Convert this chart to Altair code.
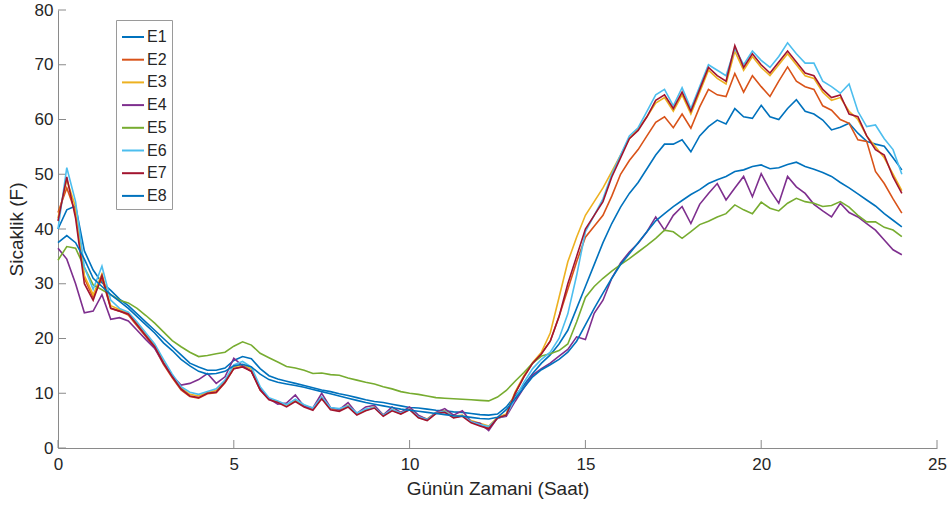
import altair as alt
import pandas as pd

hours = [i * 0.25 for i in range(97)]
series_names = ["E1", "E2", "E3", "E4", "E5", "E6", "E7", "E8"]
series_colors = ["#0072BD", "#D95319", "#EDB120", "#7E2F8E", "#77AC30", "#4DBEEE", "#A2142F", "#0072BD"]
x_ticks = [0, 5, 10, 15, 20, 25]
y_ticks = [0, 10, 20, 30, 40, 50, 60, 70, 80]

E1 = [40.0, 43.5, 44.2, 36.0,
      32.5, 30.2, 28.8, 27.2,
      26.0, 24.5, 23.0, 21.5,
      20.0, 18.5, 17.0, 15.5,
      14.8, 14.2, 14.2, 14.6,
      16.0, 16.7, 16.3, 14.5,
      13.2, 12.6, 12.2, 11.8,
      11.4, 11.0, 10.6, 10.3,
      9.9, 9.6, 9.2, 8.8,
      8.5, 8.3, 8.0, 7.7,
      7.4, 7.3, 7.1, 6.9,
      6.8, 6.6, 6.5, 6.3,
      6.1, 6.0, 6.2, 7.5,
      9.5, 11.5, 13.6, 15.5,
      17.0, 19.0, 21.5, 25.5,
      29.5, 33.5, 37.5, 41.0,
      44.0, 46.5, 48.5, 51.0,
      53.5, 55.5, 55.5, 56.3,
      54.1, 57.0, 58.7, 59.9,
      59.2, 62.0, 60.5, 60.2,
      62.6, 60.5, 60.0, 62.0,
      63.6, 61.5, 61.0, 59.9,
      58.1, 58.6, 59.3, 57.5,
      56.0, 55.5, 55.1, 53.0,
      50.8]

E2 = [43.0, 47.5, 43.0, 31.0,
      27.5, 31.0, 25.5, 25.0,
      24.3, 22.3, 20.3, 18.3,
      15.3, 12.8, 10.6, 9.4,
      9.1, 9.9, 10.1, 11.9,
      14.5, 14.9, 14.0, 10.6,
      9.0, 8.4, 7.7, 8.6,
      7.7, 7.1, 9.1, 7.2,
      6.9, 7.6, 6.2, 6.9,
      7.4, 6.0, 6.9, 6.3,
      7.1, 5.6, 5.1, 6.4,
      6.6, 5.6, 5.9, 4.8,
      4.2, 3.7, 5.5, 6.1,
      10.0, 13.0, 15.5, 17.2,
      19.5, 24.0, 29.0, 34.0,
      38.5, 40.5, 42.5, 46.0,
      50.0, 52.5, 54.5, 57.0,
      59.5, 60.5, 58.5, 61.0,
      58.4, 62.3, 65.5, 64.5,
      64.2, 68.4, 65.0, 68.0,
      66.0, 64.2, 67.0, 69.6,
      67.0, 66.0, 65.5, 62.5,
      61.7, 60.0, 59.3, 56.3,
      56.0, 50.5, 48.3, 45.5,
      42.9]

E3 = [42.0, 49.0, 44.0, 31.5,
      28.0, 31.8, 26.0, 25.3,
      24.7, 22.8, 20.8, 18.8,
      15.8, 13.2, 11.0, 9.8,
      9.5, 10.2, 10.5, 12.2,
      14.8, 15.2, 14.4, 10.9,
      9.0, 8.5, 7.8, 8.7,
      7.8, 7.2, 9.2, 7.3,
      7.0, 7.8, 6.3, 7.0,
      7.5, 6.1, 7.0, 6.5,
      7.2, 5.8, 5.3, 6.5,
      6.8, 5.8, 6.0, 5.0,
      4.5, 4.0, 5.6, 6.2,
      10.2, 13.2, 15.6, 17.5,
      21.0, 27.5, 34.0, 38.5,
      42.5, 45.0, 47.5, 50.5,
      53.5, 56.5, 58.3, 60.5,
      63.0, 64.0, 61.5, 64.5,
      61.0, 65.0, 69.0, 67.5,
      66.5, 72.5, 69.0, 71.5,
      69.5, 68.0, 70.0, 72.0,
      70.0, 68.0, 67.5, 65.0,
      63.5, 64.0, 61.5, 60.0,
      57.0, 55.0, 53.0, 50.0,
      47.0]

E4 = [36.5, 34.5, 30.0, 24.7,
      25.0, 28.0, 23.5, 23.8,
      23.2, 21.5, 19.8, 18.2,
      15.5, 13.2, 11.5, 11.8,
      12.5, 13.6, 11.8, 13.0,
      16.4, 15.0, 14.0, 10.8,
      9.0, 8.0, 8.2, 9.7,
      7.6, 7.3, 10.0, 7.4,
      7.0, 8.3, 6.3, 7.5,
      7.8, 6.0, 7.5, 6.5,
      7.5, 6.0, 5.2, 6.5,
      7.2, 6.0, 6.8, 4.8,
      4.5, 3.2, 5.5, 5.8,
      8.5, 11.0, 13.3, 14.5,
      15.5, 16.8, 18.0, 20.3,
      19.8, 24.6, 27.0, 31.0,
      33.8, 35.8, 37.4, 39.5,
      42.2, 39.8, 42.5, 44.1,
      41.0, 44.5, 46.5, 48.3,
      45.3, 47.5, 49.6, 45.9,
      50.1, 47.1, 44.7, 49.6,
      47.7, 46.5, 44.5, 43.3,
      42.2, 44.7, 43.0, 42.2,
      41.0, 39.8, 38.0, 36.2,
      35.3]

E5 = [34.3, 36.8, 36.5, 33.0,
      29.8, 28.9, 28.0, 27.0,
      26.5, 25.5, 24.2, 22.8,
      21.2, 19.6, 18.5, 17.5,
      16.7, 16.9, 17.2, 17.5,
      18.6, 19.4, 18.8, 17.3,
      16.5, 15.7, 14.9, 14.6,
      14.2, 13.6, 13.7, 13.4,
      13.3, 12.8, 12.4, 12.0,
      11.7, 11.2, 10.8, 10.3,
      10.0, 9.8, 9.5, 9.2,
      9.1, 9.0, 8.9, 8.8,
      8.7, 8.6, 9.3, 10.5,
      12.2, 13.8, 15.5, 16.8,
      17.2, 17.8, 19.0, 23.0,
      27.5, 29.5, 31.0, 32.3,
      33.5, 34.6, 35.8, 37.0,
      38.3, 39.8, 39.5, 38.3,
      39.5, 40.8, 41.4, 42.2,
      42.8, 44.4, 43.5, 42.8,
      44.9, 43.8, 43.3, 44.7,
      45.6, 45.0, 44.7, 44.1,
      44.3, 45.0, 44.0, 42.5,
      41.3, 41.3, 40.3, 39.8,
      38.6]

E6 = [40.0, 51.2, 45.0, 33.0,
      29.0, 33.2, 27.0, 25.5,
      24.8, 23.0, 21.0, 19.0,
      16.2, 13.5, 11.2, 10.2,
      9.8, 10.3, 10.8, 12.4,
      15.2, 15.8, 14.8, 11.2,
      9.2, 8.6, 7.9, 8.9,
      7.9, 7.3, 9.3, 7.4,
      7.2, 7.7, 6.4, 7.1,
      7.4, 6.0, 7.0, 6.4,
      7.1, 5.7, 5.2, 6.4,
      6.7, 5.6, 5.9, 4.8,
      4.3, 3.9, 5.4, 6.0,
      9.0, 12.0, 14.5, 16.2,
      17.5, 20.0, 24.5, 31.5,
      39.5, 42.5, 45.5, 50.0,
      53.5, 57.0, 58.5, 61.5,
      64.5, 65.5, 62.5, 65.8,
      62.0, 66.0, 70.0, 69.0,
      68.0, 73.0, 70.0, 72.5,
      70.8, 69.5, 71.5, 74.0,
      72.0, 70.3, 70.3, 67.0,
      66.0, 64.8, 66.5, 61.5,
      58.7, 59.0, 56.5, 54.5,
      50.0]

E7 = [41.5, 49.5, 42.0, 30.0,
      27.0, 31.5, 25.5, 25.0,
      24.5, 22.5, 20.5, 18.5,
      15.5, 13.0, 10.8, 9.5,
      9.2, 10.0, 10.2, 12.0,
      14.5, 14.8, 14.0, 10.6,
      8.8, 8.3, 7.5, 8.5,
      7.5, 6.9, 9.0, 7.0,
      6.7, 7.5, 6.0, 6.8,
      7.3, 5.8, 6.8, 6.2,
      7.0, 5.5, 5.0, 6.3,
      6.5, 5.5, 5.8, 4.6,
      4.0, 3.5, 5.5, 6.0,
      10.0, 13.0, 15.5, 17.2,
      19.5, 24.0, 30.0, 35.0,
      40.0, 42.5, 45.0, 49.5,
      53.0, 56.5, 58.0, 60.5,
      63.5, 64.5, 62.0, 65.0,
      61.5, 65.5, 69.5, 68.0,
      67.0, 73.5, 69.5, 72.0,
      70.0, 68.5, 70.5, 72.5,
      70.5, 68.5, 68.0, 65.5,
      64.0, 64.5, 61.0, 60.5,
      57.0, 54.5, 53.5, 49.5,
      46.5]

E8 = [37.5, 38.8, 37.5, 34.5,
      31.0, 29.5, 28.0, 26.8,
      25.5, 24.0, 22.5, 21.0,
      19.2, 17.8, 16.2, 15.0,
      14.0, 13.5, 13.6, 14.0,
      15.0, 15.3, 14.8, 13.5,
      12.5, 12.0, 11.7, 11.4,
      11.1, 10.7, 10.3, 9.9,
      9.5, 9.1, 8.7, 8.3,
      8.0, 7.7, 7.4, 7.1,
      6.9, 6.7, 6.5, 6.3,
      6.1, 5.9, 5.8, 5.6,
      5.4, 5.3, 5.6, 7.0,
      9.0, 11.0, 13.0, 14.3,
      15.2, 16.2, 17.5, 19.5,
      22.5, 25.5, 28.3, 31.0,
      33.5, 35.5, 37.5, 39.5,
      41.5, 42.8, 44.1, 45.2,
      46.3, 47.2, 48.3, 49.0,
      49.6, 50.5, 50.8, 51.4,
      51.7, 51.0, 51.2, 51.8,
      52.2, 51.4, 50.9, 50.3,
      49.6, 48.5, 47.5, 46.4,
      45.3, 44.2, 42.8, 41.6,
      40.4]

all_series = [E1, E2, E3, E4, E5, E6, E7, E8]
rows = []
for k, (name, vals) in enumerate(zip(series_names, all_series)):
    for h, v in zip(hours, vals):
        rows.append({"t": h, "v": v, "s": name, "k": k})
df = pd.DataFrame(rows)

FONT = "Liberation Sans"
AX = "#8a8a8a"
TXT = "#262626"

x_scale = alt.Scale(domain=[0, 25], nice=False, zero=False)
y_scale = alt.Scale(domain=[0, 80], nice=False, zero=False)

lines = alt.Chart(df).mark_line(strokeWidth=1.6).encode(
    x=alt.X("t:Q", scale=x_scale,
            axis=alt.Axis(values=x_ticks, title="Günün Zamani (Saat)", grid=False,
                          tickSize=0, labelPadding=8, titlePadding=7, labelFlush=False,
                          labelOverlap=False, format="d")),
    y=alt.Y("v:Q", scale=y_scale,
            axis=alt.Axis(values=y_ticks, title="Sicaklik (F)", grid=False,
                          tickSize=0, labelPadding=5, titlePadding=8, labelOverlap=False,
                          format="d")),
    color=alt.Color("s:N", scale=alt.Scale(domain=series_names, range=series_colors),
                    legend=alt.Legend(title=None, orient="none", legendX=58, legendY=10,
                                      symbolType="stroke", symbolSize=484, symbolStrokeWidth=2,
                                      labelFontSize=16, labelFont=FONT, labelColor=TXT,
                                      labelOffset=2, rowPadding=2.7, padding=5,
                                      strokeColor="#9a9a9a", fillColor="white")),
    detail="k:N",
)

xt = alt.Chart(pd.DataFrame({"t": x_ticks})).mark_rule(color=AX, strokeWidth=1).encode(
    x=alt.X("t:Q", scale=x_scale),
    y=alt.value(430),
    y2=alt.value(438),
)
yt = alt.Chart(pd.DataFrame({"v": y_ticks})).mark_rule(color=AX, strokeWidth=1).encode(
    y=alt.Y("v:Q", scale=y_scale),
    x=alt.value(0),
    x2=alt.value(8),
)

chart = alt.layer(xt, yt, lines).properties(
    width=879, height=438,
    padding={"left": 58, "top": 10, "right": 13, "bottom": 62},
    autosize=alt.AutoSizeParams(type="none"),
    background="white",
).configure_view(strokeWidth=0).configure_axis(
    domainColor=AX, domainWidth=1, labelFont=FONT, labelFontSize=17, labelColor=TXT,
    titleFont=FONT, titleFontSize=19, titleFontWeight="normal", titleColor=TXT,
)

chart.save("out.html", embed_options={"renderer": "svg", "actions": False})
